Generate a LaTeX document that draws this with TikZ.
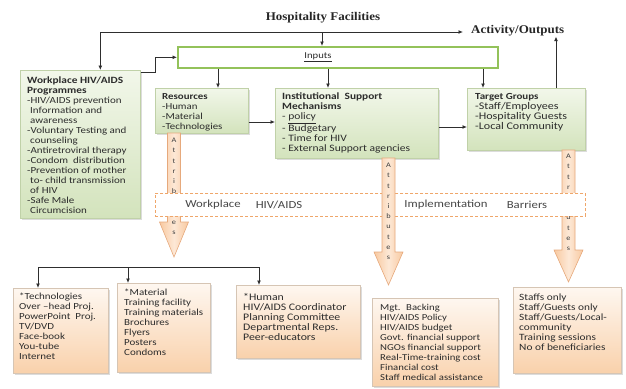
\documentclass[tikz,border=0pt]{standalone}
\usepackage{fontspec}
\setmainfont{Carlito}[FakeStretch=1.18]
\newfontfamily\titlefont{Liberation Serif}[FakeStretch=1.1]
\usetikzlibrary{arrows.meta,shadows}
\definecolor{gtop}{HTML}{F2F7EA}
\definecolor{gbot}{HTML}{D3E3BC}
\definecolor{gborder}{HTML}{C0D1A8}
\definecolor{otop}{HTML}{FEF7F0}
\definecolor{obot}{HTML}{F9D1AB}
\definecolor{oborder}{HTML}{D6C5B4}
\definecolor{inpborder}{HTML}{93C25A}
\definecolor{arrfill}{HTML}{F8C9A0}
\definecolor{arrmid}{HTML}{FDE8D6}
\definecolor{arrline}{HTML}{E6A97C}
\definecolor{dashcol}{HTML}{EFA66A}
\definecolor{txtcol}{HTML}{2C2C2C}
\definecolor{linecol}{HTML}{2E2E2E}
\newcommand\blockarr[4]{%
  \path[blk] (#1-6.5,#2) -- (#1+6.5,#2) -- (#1+6.5,#3) -- (#1+14.5,#3)
    -- (#1,#4) -- (#1-14.5,#3) -- (#1-6.5,#3) -- cycle;}
\newcommand\fs[1]{\fontsize{#1}{10}\selectfont}
\begin{document}
\begin{tikzpicture}[x=1pt,y=-1pt,
  gbox/.style={draw=gborder, line width=0.6pt, top color=gtop, bottom color=gbot,
    drop shadow={shadow xshift=1.4pt, shadow yshift=-1.4pt, opacity=0.28, fill=black!50},
    anchor=north west, inner sep=0pt},
  obox/.style={draw=oborder, line width=0.6pt, top color=otop, bottom color=obot,
    drop shadow={shadow xshift=1.4pt, shadow yshift=-1.4pt, opacity=0.28, fill=black!50},
    anchor=north west, inner sep=0pt},
  txt/.style={anchor=north west, inner sep=0pt, align=left, text=txtcol,
    font=\fontsize{9}{10}\selectfont},
  ttl/.style={font=\titlefont\bfseries\fontsize{11.8}{13}\selectfont, text=black!85, inner sep=0pt},
  arr/.style={draw=linecol, line width=0.9pt, -{Latex[length=4.5pt,width=4pt]}},
  arrboth/.style={draw=linecol, line width=0.9pt, {Latex[length=4.5pt,width=4pt]}-{Latex[length=4.5pt,width=4pt]}},
  plain/.style={draw=linecol, line width=0.9pt},
  blk/.style={draw=arrline, line width=0.6pt, left color=arrfill, right color=arrfill, middle color=arrmid},
  letters/.style={anchor=north, inner sep=0pt, align=center, text=black!75,
    font=\fontsize{7}{10.2}\selectfont},
  bartxt/.style={inner sep=0pt, text=black!72, font=\fontsize{10.8}{12}\selectfont},
]
\useasboundingbox (0,0) rectangle (626,388);

% titles
\node[ttl] (hf) at (323,18) {Hospitality Facilities};
\node[ttl, anchor=west] (ao) at (471,31) {Activity/Outputs};

% inputs box
\node[draw=inpborder, line width=1.6pt, fill=white, anchor=north west,
  minimum width=320pt, minimum height=21pt, inner sep=0pt] (inp) at (177,46) {};
\node[txt, anchor=center] (inpt) at (318,57) {\underline{Inputs}};

% green boxes
\node[gbox, minimum width=120pt, minimum height=148pt] (wp) at (20,70) {};
\node[txt, font=\fs{9.3}] (wpt) at (27,77) {{\fs{9.6}\bfseries Workplace HIV/AIDS}\\ {\fs{9.6}\bfseries Programmes}\\
-HIV/AIDS prevention\\ \hspace*{3pt}Information and\\ \hspace*{3pt}awareness\\
-Voluntary Testing and\\ \hspace*{3pt}counseling\\ -Antiretroviral therapy\\
-Condom~ distribution\\ -Prevention of mother\\ \hspace*{3pt}to- child transmission\\
\hspace*{3pt}of HIV\\ -Safe Male\\ \hspace*{3pt}Circumcision};

\node[gbox, minimum width=93pt, minimum height=45pt] (res) at (155,88) {};
\node[txt, font=\fs{9.2}] (rest) at (162,93) {{\bfseries Resources}\\ -Human\\ -Material\\ -Technologies};

\node[gbox, minimum width=163pt, minimum height=70pt] (inst) at (275,88) {};
\node[txt, font=\fs{9.8}] (instt) at (282,93) {{\fs{9.6}\bfseries Institutional~ Support}\\ {\fs{9.6}\bfseries Mechanisms}\\
- \underline{policy}\\ - Budgetary\\ - Time for HIV\\ - External Support agencies};

\node[gbox, minimum width=118pt, minimum height=62pt] (tg) at (467,88) {};
\node[txt, font=\fs{10.2}] (tgt) at (475,93) {{\fs{9.3}\bfseries Target Groups}\\ -Staff/Employees\\
-Hospitality Guests\\ -Local Community};

% connectors top
\coordinate (j1) at (322,32);
\coordinate (rtop) at (218,88);
\coordinate (itop) at (328,88);
\coordinate (ttop) at (483,88);
\coordinate (tgup) at (556,88);
\coordinate (ri) at (0,122);
\coordinate (it) at (0,127);
\draw[arrboth] ([xshift=20pt]wp.north) |- ([xshift=-8pt,yshift=-1pt]ao.west);
\draw[arr] (j1) -- (j1 |- inp.north);
\draw[arr] ([yshift=-2pt]wp.north east) -- ++(15,0) |- (inp.west);
\draw[arr] (rtop |- inp.south) -- (rtop);
\draw[arr] (itop |- inp.south) -- (itop);
\draw[arr] (ttop |- inp.south) -- (ttop);
\draw[arr] (res.east |- ri) -- (inst.west |- ri);
\draw[arr] (inst.east |- it) -- (tg.west |- it);
\draw[arr] (tgup) -- (tgup |- ao.south);

% block arrows under the bar
\blockarr{174}{133}{222}{257}
\node[letters] (l1) at (174,138) {A\\t\\t\\r\\i\\b\\u\\t\\e\\s};
\blockarr{568.5}{150}{250}{282}
\node[letters] (l3) at (568.5,154) {A\\t\\t\\r\\i\\b\\u\\t\\e\\s};

% barrier bar
\node[draw=dashcol, dash pattern=on 3pt off 2pt, line width=0.9pt, fill=white,
  anchor=north west, minimum width=430pt, minimum height=23pt, inner sep=0pt] (bar) at (155,193) {};
\node[bartxt] (w1) at (213,205) {Workplace};
\node[bartxt] (w2) at (279,205) {HIV/AIDS};
\node[bartxt] (w3) at (446,205) {Implementation};
\node[bartxt] (w4) at (527,205) {Barriers};

% block arrow over the bar
\blockarr{388.5}{158}{252}{285}
\node[letters] (l2) at (388.5,163) {A\\t\\t\\r\\i\\b\\u\\t\\e\\s};

% bottom orange boxes
\node[obox, minimum width=95pt, minimum height=85pt] (tech) at (13,288) {};
\node[txt, font=\fs{9.3}] (techt) at (19,293) {*Technologies\\ Over --head Proj.\\ PowerPoint~ Proj.\\
TV/DVD\\ Face-book\\ You-tube\\ Internet};

\node[obox, minimum width=93pt, minimum height=89pt] (mat) at (117,283) {};
\node[txt, font=\fs{9.3}] (matt) at (124,289) {*Material\\ Training facility\\ Training materials\\
Brochures\\ Flyers\\ Posters\\ Condoms};

\node[obox, minimum width=124pt, minimum height=73pt] (hum) at (236,285) {};
\node[txt, font=\fs{10}] (humt) at (243,293) {*Human\\ HIV/AIDS Coordinator\\ Planning Committee\\
Departmental Reps.\\ Peer-educators};

\node[obox, minimum width=126pt, minimum height=88pt] (mgt) at (372,298) {};
\node[txt, font=\fs{9.1}] (mgtt) at (380,304) {Mgt.~ Backing\\ HIV/AIDS Policy\\ HIV/AIDS budget\\
Govt. financial support\\ NGOs financial support\\ Real-Time-training cost\\
Financial cost\\ Staff medical assistance};

\node[obox, minimum width=108pt, minimum height=86pt] (stf) at (513,287) {};
\node[txt, font=\fs{9.6}] (stft) at (519,294) {Staffs only\\ Staff/Guests only\\ Staff/Guests/Local-\\
community\\ Training sessions\\ No of beneficiaries};

% bottom distribution connector
\coordinate (bl) at (38,267);
\coordinate (bm) at (128,267);
\coordinate (br) at (259,267);
\draw[plain] (bl) -- (br);
\draw[arr] (bl) -- (bl |- tech.north);
\draw[arr] (bm) -- (bm |- mat.north);
\draw[arr] (br) -- (br |- hum.north);
\end{tikzpicture}
\end{document}
